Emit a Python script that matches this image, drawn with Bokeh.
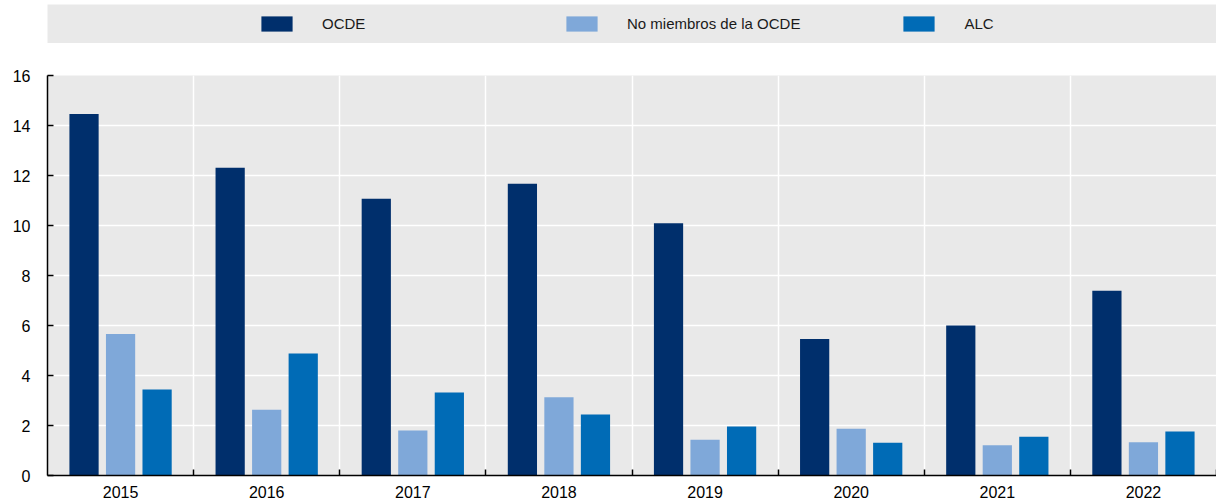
import numpy as np
from bokeh.plotting import figure
from bokeh.models import Range1d, FixedTicker, Legend, LegendItem, ColumnDataSource
from bokeh.layouts import column
from bokeh.embed import file_html
from bokeh.resources import INLINE

# ---- data ----
years = ["2015", "2016", "2017", "2018", "2019", "2020", "2021", "2022"]
ocde = [14.46, 12.31, 11.07, 11.67, 10.09, 5.46, 6.00, 7.39]
no_miembros = [5.66, 2.63, 1.80, 3.13, 1.43, 1.87, 1.21, 1.33]
alc = [3.44, 4.88, 3.32, 2.44, 1.96, 1.31, 1.55, 1.76]
series_names = ["OCDE", "No miembros de la OCDE", "ALC"]
y_ticks = [0, 2, 4, 6, 8, 10, 12, 14, 16]

colors = ["#002F6C", "#7FA8D9", "#006BB6"]
offsets = [-0.25, 0.0, 0.25]
FONT = "Liberation Sans"
W = 1216

centers = np.arange(len(years)) + 0.5

# ---- main plot ----
p = figure(width=W, height=461, x_range=Range1d(0, len(years)), y_range=Range1d(0, 16),
           output_backend="svg", toolbar_location=None,
           min_border_left=44, min_border_right=0, min_border_top=32, min_border_bottom=29,
           background_fill_color="#e9e9e9", border_fill_color="white", outline_line_color=None)

for name, vals, col, off in zip(series_names, [ocde, no_miembros, alc], colors, offsets):
    src = ColumnDataSource(dict(x=centers + off, top=vals, year=years))
    p.vbar(x="x", top="top", width=0.2, bottom=0, source=src,
           fill_color=col, line_color=None)

# x axis: labels at centres, ticks at boundaries (minor)
p.xaxis.ticker = FixedTicker(ticks=list(centers), minor_ticks=list(range(1, len(years) + 1)))
p.xaxis.major_label_overrides = {float(c): y for c, y in zip(centers, years)}
p.xaxis.major_tick_in = 0
p.xaxis.major_tick_out = 0
p.xaxis.minor_tick_in = 6
p.xaxis.minor_tick_out = 0
p.xaxis.minor_tick_line_color = "black"
p.xaxis.minor_tick_line_width = 1.5
p.xaxis.major_label_standoff = 10

p.yaxis.ticker = FixedTicker(ticks=y_ticks)
p.yaxis.major_tick_in = 6
p.yaxis.major_tick_out = 0
p.yaxis.major_tick_line_width = 1.5
p.yaxis.minor_tick_line_color = None
p.yaxis.major_label_standoff = 17

for ax in (p.xaxis, p.yaxis):
    ax.axis_line_color = "black"
    ax.axis_line_width = 1.5
    ax.major_tick_line_color = "black"
    ax.major_label_text_font = FONT
    ax.major_label_text_font_size = "16px"
    ax.major_label_text_color = "#000000"

p.xgrid.ticker = FixedTicker(ticks=list(range(1, len(years))))
p.ygrid.ticker = FixedTicker(ticks=y_ticks)
p.grid.grid_line_color = "white"
p.grid.grid_line_width = 1.5

# ---- legend band ----
lp = figure(width=W, height=43, x_range=Range1d(0, 1), y_range=Range1d(0, 1),
            output_backend="svg", toolbar_location=None,
            min_border_left=47, min_border_right=0, min_border_top=4, min_border_bottom=0,
            x_axis_location=None, y_axis_location=None,
            background_fill_color="#e9e9e9", border_fill_color="white", outline_line_color=None)
lp.grid.visible = False

items = []
for name, col in zip(series_names, colors):
    # zero-height proxy bar, only used to carry the legend swatch
    r = lp.vbar(x=[0.5], top=[0], bottom=[0], width=0.01, fill_color=col, line_color=None)
    items.append(LegendItem(label=name, renderers=[r]))

legend = Legend(items=items, location=(210, 10), orientation="horizontal",
                padding=0, margin=0, spacing=99, label_width=141, label_standoff=26,
                glyph_width=39, glyph_height=19, label_height=19,
                background_fill_alpha=0, border_line_color=None,
                label_text_font=FONT, label_text_font_size="15px", label_text_color="#1a1a1a")
lp.add_layout(legend)

layout = column(lp, p, spacing=0)
open("out.html", "w").write(file_html(layout, INLINE))
